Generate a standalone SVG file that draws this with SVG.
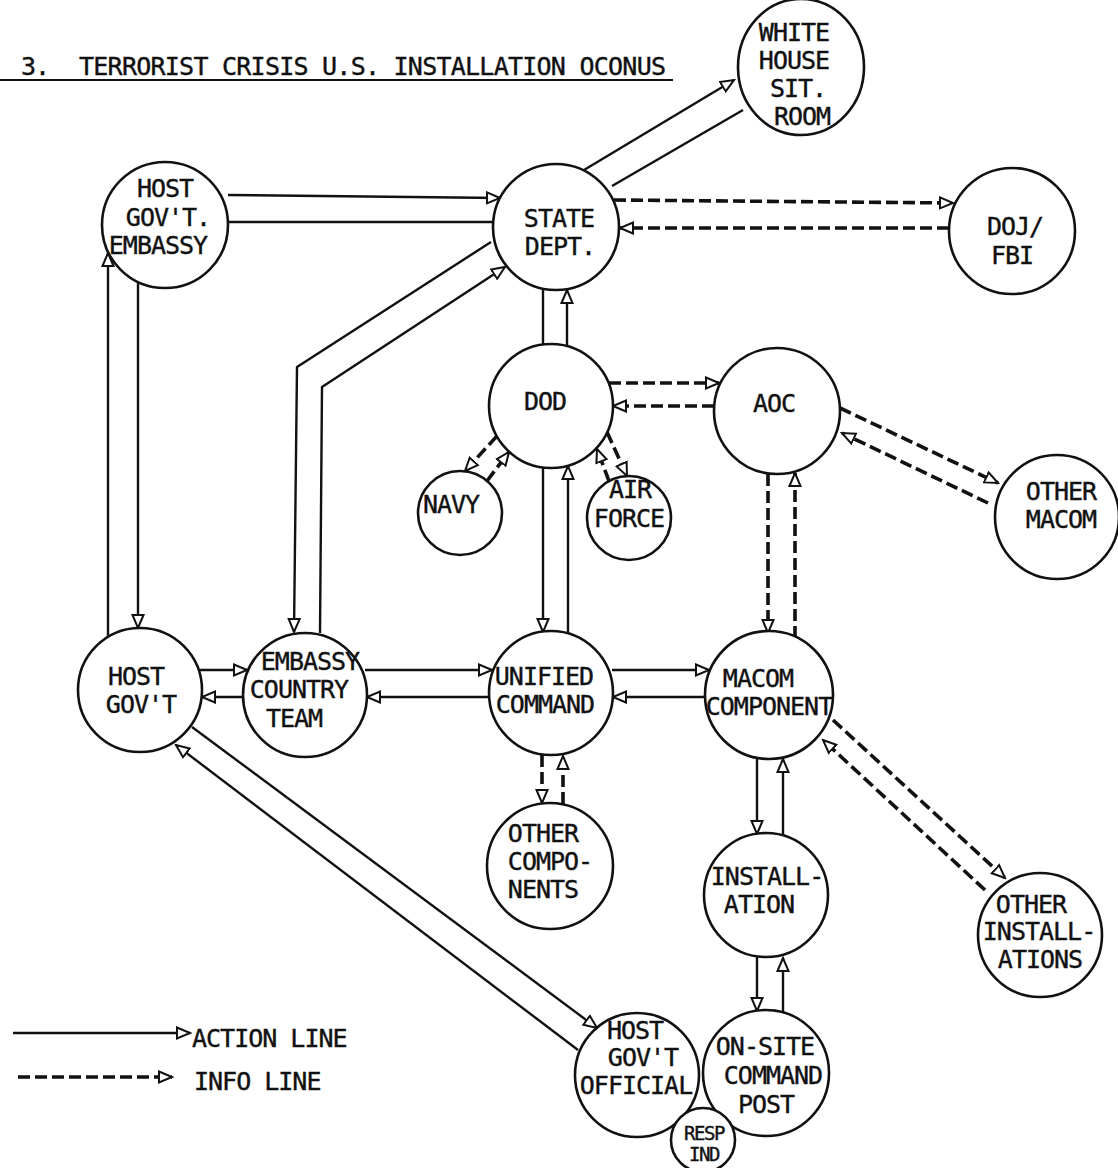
<svg xmlns="http://www.w3.org/2000/svg" width="1118" height="1168" viewBox="0 0 1118 1168">
<style>
.n{fill:#fff;stroke:#111;stroke-width:2.6}
text{font-family:"DejaVu Sans Mono","Liberation Mono",monospace;font-size:25px;letter-spacing:-1px;fill:#111;stroke:#111;stroke-width:0.4;text-anchor:middle}
.s{text-anchor:start}
.a{fill:none;stroke:#111;stroke-width:2.4;stroke-linejoin:round}
.i{fill:none;stroke:#111;stroke-width:3.6;stroke-dasharray:12 5}
.am{marker-end:url(#ah)}
.sm{font-size:19px;letter-spacing:-1.5px}
</style>
<defs>
<marker id="ah" markerUnits="userSpaceOnUse" markerWidth="16" markerHeight="14" viewBox="0 0 16 14" refX="14" refY="7" orient="auto">
<path d="M1,1.5 L14,7 L1,12.5 Z" fill="#fff" stroke="#111" stroke-width="2" stroke-dasharray="none"/>
</marker>
</defs>
<rect width="1118" height="1168" fill="#fff"/>
<g id="title">
<text x="21" y="75" class="s">3.</text>
<text x="79" y="75" class="s" textLength="586" lengthAdjust="spacing">TERRORIST CRISIS U.S. INSTALLATION OCONUS</text>
<path d="M0,80 L673,80" stroke="#111" stroke-width="2.2"/>
</g>
<g id="connectors">
<path class="a am" d="M228,195 L500,198"/>
<path class="a" d="M229,222 L493,222"/>
<path class="a am" d="M584,170 L734,80"/>
<path class="a" d="M612,186 L743,110"/>
<path class="a am" d="M491,242 L297,367 L294,632"/>
<path class="a am" d="M320,633 L322,387 L505,267"/>
<path class="a am" d="M108,637 L108,253"/>
<path class="a am" d="M138,283 L138,628"/>
<path class="a am" d="M199,670 L247,670"/>
<path class="a am" d="M243,697 L202,697"/>
<path class="a am" d="M365,670 L492,670"/>
<path class="a am" d="M489,697 L367,697"/>
<path class="a am" d="M612,670 L709,670"/>
<path class="a am" d="M705,697 L613,697"/>
<path class="a" d="M543,289 L543,345"/>
<path class="a am" d="M567,346 L567,290"/>
<path class="a am" d="M543,468 L543,632"/>
<path class="a am" d="M568,633 L568,466"/>
<path class="a am" d="M757,759 L757,834"/>
<path class="a am" d="M783,835 L783,759"/>
<path class="a am" d="M757,957 L757,1011"/>
<path class="a am" d="M783,1011 L783,958"/>
<path class="a am" d="M192,727 L597,1028"/>
<path class="a am" d="M578,1050 L176,745"/>
<path class="i am" d="M614,200 L953,203"/>
<path class="i am" d="M949,228 L620,228"/>
<path class="i am" d="M609,383 L719,383"/>
<path class="i am" d="M714,406 L613,406"/>
<path class="i am" d="M497,436 L465,471"/>
<path class="i am" d="M487,481 L509,452"/>
<path class="i am" d="M607,432 L627,476"/>
<path class="i am" d="M609,481 L597,449"/>
<path class="i am" d="M840,408 L998,483"/>
<path class="i am" d="M988,503 L842,433"/>
<path class="i am" d="M768,474 L768,633"/>
<path class="i am" d="M795,638 L795,473"/>
<path class="i am" d="M542,755 L542,803"/>
<path class="i am" d="M563,804 L563,756"/>
<path class="i am" d="M833,720 L1005,878"/>
<path class="i am" d="M985,890 L823,740"/>
</g>
<g id="white-house"><ellipse class="n" cx="801" cy="67" rx="63" ry="68"/>
<text x="794" y="41">WHITE</text><text x="794" y="69">HOUSE</text><text x="798" y="97">SIT.</text><text x="802" y="125">ROOM</text></g>
<g id="host-govt-embassy"><circle class="n" cx="165" cy="225" r="63"/>
<text x="165" y="197">HOST</text><text x="168" y="226">GOV'T.</text><text x="158" y="254">EMBASSY</text></g>
<g id="state-dept"><circle class="n" cx="556" cy="227" r="63"/>
<text x="559" y="227">STATE</text><text x="560" y="255">DEPT.</text></g>
<g id="doj-fbi"><circle class="n" cx="1012" cy="231" r="63"/>
<text x="1015" y="235">DOJ/</text><text x="1012" y="264">FBI</text></g>
<g id="dod"><circle class="n" cx="551" cy="406" r="62"/>
<text x="545" y="410">DOD</text></g>
<g id="aoc"><circle class="n" cx="777" cy="411" r="63"/>
<text x="774" y="412">AOC</text></g>
<g id="navy"><circle class="n" cx="460" cy="513" r="42"/>
<text x="451" y="513">NAVY</text></g>
<g id="air-force"><circle class="n" cx="629" cy="518" r="42"/>
<text x="630" y="498">AIR</text><text x="629" y="527">FORCE</text></g>
<g id="other-macom"><circle class="n" cx="1057" cy="517" r="62"/>
<text x="1061" y="500">OTHER</text><text x="1061" y="528">MACOM</text></g>
<g id="host-govt"><circle class="n" cx="140" cy="690" r="62"/>
<text x="136" y="685">HOST</text><text x="141" y="713">GOV'T</text></g>
<g id="embassy-country-team"><circle class="n" cx="305" cy="695" r="62"/>
<text x="310" y="670">EMBASSY</text><text x="299" y="698">COUNTRY</text><text x="294" y="727">TEAM</text></g>
<g id="unified-command"><circle class="n" cx="551" cy="693" r="62"/>
<text x="544" y="685">UNIFIED</text><text x="545" y="713">COMMAND</text></g>
<g id="macom-component"><circle class="n" cx="769" cy="695" r="64"/>
<text x="758" y="687">MACOM</text><text x="769" y="715">COMPONENT</text></g>
<g id="other-components"><circle class="n" cx="550" cy="866" r="63"/>
<text x="543" y="842">OTHER</text><text x="550" y="870">COMPO-</text><text x="543" y="898">NENTS</text></g>
<g id="installation"><circle class="n" cx="766" cy="895" r="62"/>
<text x="767" y="885">INSTALL-</text><text x="759" y="913">ATION</text></g>
<g id="other-installations"><circle class="n" cx="1040" cy="935" r="62"/>
<text x="1031" y="913">OTHER</text><text x="1039" y="940">INSTALL-</text><text x="1040" y="968">ATIONS</text></g>
<g id="host-govt-official"><circle class="n" cx="637" cy="1075" r="62"/>
<text x="635" y="1039">HOST</text><text x="643" y="1066">GOV'T</text><text x="636" y="1094">OFFICIAL</text></g>
<g id="on-site-command-post"><circle class="n" cx="766" cy="1073" r="63"/>
<text x="765" y="1055">ON-SITE</text><text x="773" y="1084">COMMAND</text><text x="766" y="1113">POST</text></g>
<g id="resp-ind"><circle class="n" cx="703" cy="1140" r="32"/>
<text x="704" y="1140" class="sm">RESP</text><text x="704" y="1161" class="sm">IND</text></g>
<g id="legend">
<path class="a am" d="M13,1033 L190,1033"/>
<text x="192" y="1047" class="s">ACTION LINE</text>
<path class="i am" d="M18,1077 L172,1077"/>
<text x="194" y="1090" class="s">INFO LINE</text>
</g>
</svg>
